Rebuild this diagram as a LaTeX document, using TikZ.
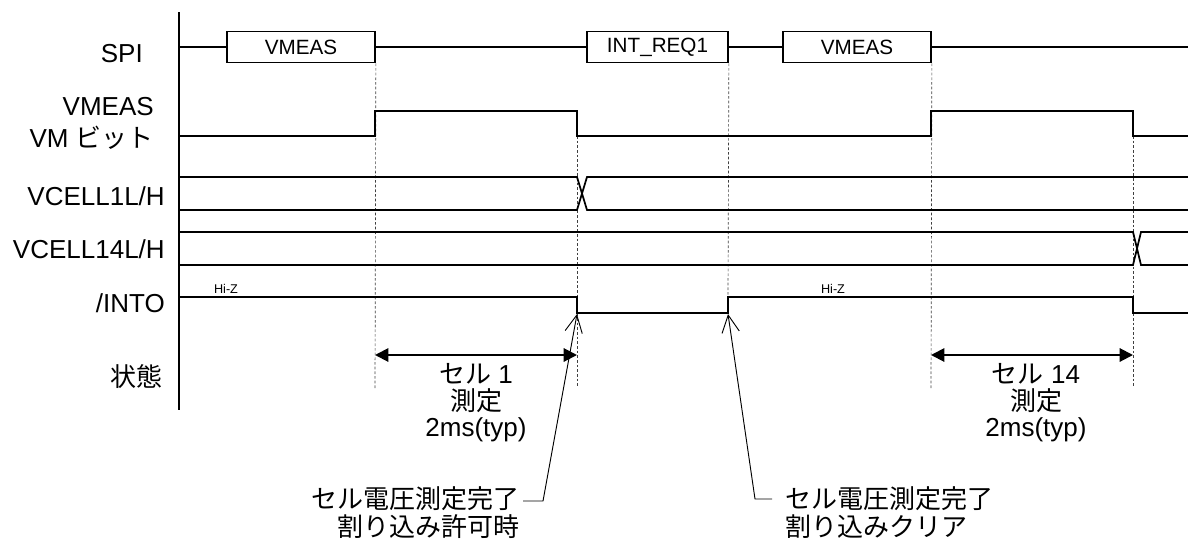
\documentclass[tikz,border=0pt]{standalone}
\usepackage{fontspec}
\setmainfont{Liberation Sans}
\newfontfamily\jp{Noto Sans CJK JP}
\usetikzlibrary{arrows.meta,positioning}

\begin{document}
\begin{tikzpicture}[
  x=0.75pt, y=-0.75pt,
  sig/.style={line width=1.3pt},
  pkt/.style={draw, line width=1.3pt, minimum height=23.25pt, inner sep=0pt, font=\fontsize{15.5}{18}\selectfont},
  guide/.style={line width=0.5pt, dash pattern=on 2pt off 1.5pt, black!75},
  span/.style={{Triangle[length=10pt,width=10pt]}-{Triangle[length=10pt,width=10pt]}, line width=1.5pt},
  note/.style={-{Straight Barb[length=13pt,width=13pt]}, line width=0.7pt},
  lbl/.style={font=\fontsize{19.5}{22}\selectfont, inner sep=0pt},
  hiz/.style={font=\fontsize{9.5}{11}\selectfont, inner sep=0pt}
]
\useasboundingbox (0,0) rectangle (1188,539);

% signal names
\node[lbl, anchor=base east] (nspi) at (143,62) {SPI};
\node[lbl, anchor=base east] (nvm1) at (154,115) {VMEAS};
\node[lbl, anchor=base east] (nvm2) at (154,147) {VM {\jp ビット}};
\node[lbl, anchor=base east] (ncl1) at (165,205) {VCELL1L/H};
\node[lbl, anchor=base east] (ncl14) at (165,258) {VCELL14L/H};
\node[lbl, anchor=base east] (nint) at (165,312) {/INTO};
\node[lbl, anchor=base east] (nst) at (163,386) {\jp 状態};
\draw[sig] (179,12) -- (179,410);

% SPI frames
\node[pkt, minimum width=111pt] (vm1) at (301,47) {VMEAS};
\node[pkt, minimum width=105.75pt] (req) at (657.5,47) {INT\_REQ1};
\node[pkt, minimum width=111pt] (vm2) at (857,47) {VMEAS};

% guides
\draw[guide] (vm1.south east) -- (375,388);
\draw[guide] (577,136) -- (577,388);
\draw[guide] (req.south east) -- (728,297);
\draw[guide] (vm2.south east) -- (931,388);
\draw[guide] (1133,136) -- (1133,388);

% waveforms
\draw[sig] (179,47) -- (vm1) -- (req) -- (vm2) -- (1188,47);
\draw[sig] (179,136) -- (375,136) -- (375,111) -- (577,111) -- (577,136)
  -- (931,136) -- (931,111) -- (1133,111) -- (1133,136) -- (1188,136);
\draw[sig] (179,177) -- (577,177) -- (587,210) -- (1188,210);
\draw[sig] (179,210) -- (577,210) -- (587,177) -- (1188,177);
\draw[sig] (179,232) -- (1133,232) -- (1141,265) -- (1188,265);
\draw[sig] (179,265) -- (1133,265) -- (1141,232) -- (1188,232);
\draw[sig] (179,297) -- (577,297) -- (577,313) -- (728,313) -- (728,297)
  -- (1133,297) -- (1133,313) -- (1188,313);
\node[hiz, anchor=base] (hz1) at (226,293) {Hi-Z};
\node[hiz, anchor=base] (hz2) at (833,293) {Hi-Z};

% measurement spans
\coordinate (m1a) at (375,355);
\coordinate (m1b) at (577,355);
\coordinate (m2a) at (931,355);
\coordinate (m2b) at (1133,355);
\draw[span] (m1a) -- (m1b);
\draw[span] (m2a) -- (m2b);
\node[lbl, anchor=base] (c1a) at (476,383) {{\jp セル} 1};
\node[lbl, anchor=base] (c1b) at (476,410) {\jp 測定};
\node[lbl, anchor=base] (c1c) at (476,436) {2ms(typ)};
\node[lbl, anchor=base] (c2a) at (1036,383) {{\jp セル} 14};
\node[lbl, anchor=base] (c2b) at (1036,410) {\jp 測定};
\node[lbl, anchor=base] (c2c) at (1036,436) {2ms(typ)};

% interrupt notes
\node[lbl, anchor=base east] (a1a) at (520,508) {\jp セル電圧測定完了};
\node[lbl, anchor=base east] (a1b) at (520,536) {\jp 割り込み許可時};
\node[lbl, anchor=base west] (a2a) at (785,508) {\jp セル電圧測定完了};
\node[lbl, anchor=base west] (a2b) at (785,536) {\jp 割り込みクリア};
\coordinate (e1) at (577,314);
\coordinate (e2) at (728,314);
\coordinate (k1a) at (523,501);
\coordinate (k1) at (543,501);
\coordinate (k2a) at (772,499);
\coordinate (k2) at (755,499);
\draw[note] (k1a) -- (k1) -- (e1);
\draw[note] (k2a) -- (k2) -- (e2);
\end{tikzpicture}
\end{document}
